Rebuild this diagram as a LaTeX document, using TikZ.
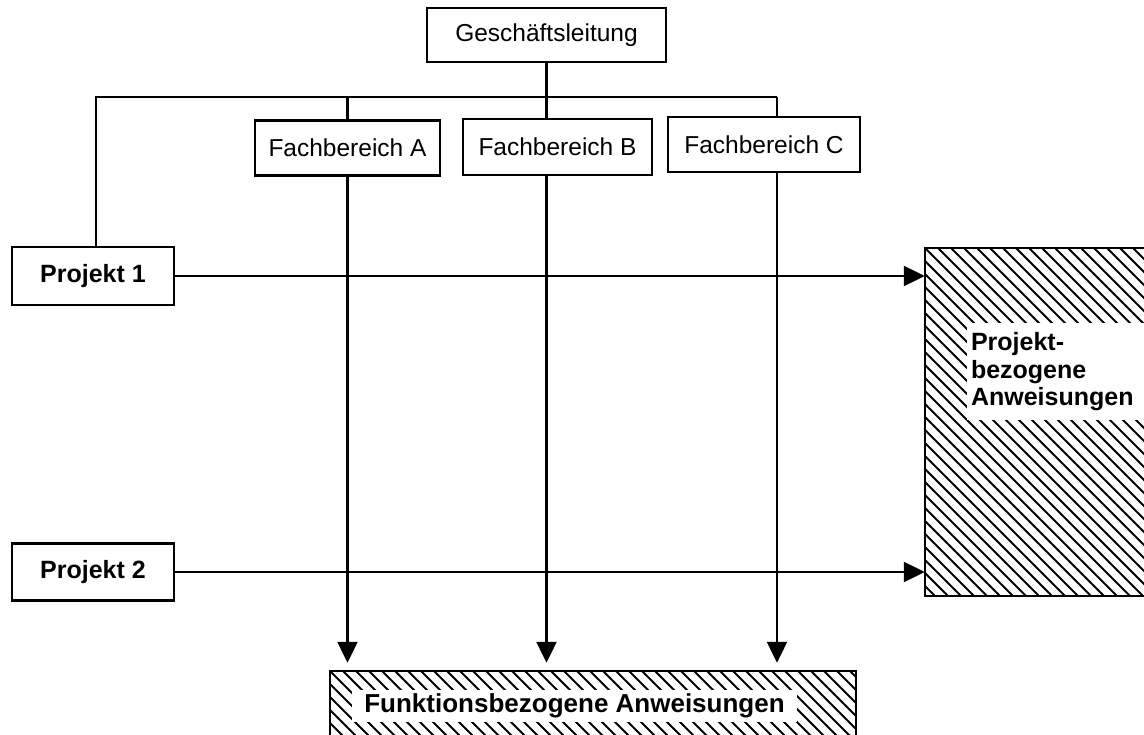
\documentclass[tikz,border=0pt]{standalone}
\usepackage{fontspec}
\setmainfont{Liberation Sans}
\usetikzlibrary{arrows.meta,calc}
\begin{document}
\begin{tikzpicture}[x=1pt,y=-1pt,
  box/.style={draw, line width=2.2pt, inner sep=0pt, font=\fontsize{24.5}{28}\selectfont},
  pbox/.style={box, font=\fontsize{25}{30}\selectfont\bfseries},
  conn/.style={line width=2.2pt},
  arr/.style={conn, -{Triangle[length=21pt,width=20pt]}},
  hatch/.style={line width=2pt},
  area/.style={inner sep=0pt},
  lbl/.style={fill=white, inner sep=0pt, align=left}
]
\useasboundingbox (0,0) rectangle (1144,735);

% org boxes
\node[box, minimum width=239pt, minimum height=54pt] (gl) at (546.5,35) {Geschäftsleitung};
\node[box, minimum width=185pt, minimum height=55pt] (fa) at (347.5,148) {Fachbereich A};
\node[box, minimum width=189pt, minimum height=56pt] (fb) at (557.5,147) {Fachbereich B};
\node[box, minimum width=192pt, minimum height=55pt] (fc) at (764,144.5) {Fachbereich C};
\node[pbox, minimum width=162pt, minimum height=58pt] (p1) at (93,276) {Projekt 1};
\node[pbox, minimum width=162pt, minimum height=57pt] (p2) at (93,572) {Projekt 2};

% hatched areas (geometry)
\node[area, minimum width=240pt, minimum height=348pt] (pa) at (1045,422) {};
\node[area, minimum width=526pt, minimum height=78pt] (fk) at (593,710) {};

\begin{scope}
  \clip (pa.north west) rectangle (pa.south east);
  \foreach \i in {-30,...,22}
    \draw[hatch] ($(pa.north west)+(\i*13,0)$) -- ++(400,400);
\end{scope}
\begin{scope}
  \clip (fk.north west) rectangle (fk.south east);
  \foreach \i in {-8,...,44}
    \draw[hatch] ($(fk.north west)+(\i*13,0)$) -- ++(100,100);
\end{scope}

\node[lbl, minimum width=180pt, minimum height=97pt, text width=172pt,
      font=\fontsize{25}{27.5}\selectfont\bfseries] (pl) at (1057,372)
  {Projekt-\\bezogene\\Anweisungen};
\node[lbl, minimum width=445pt, minimum height=32pt,
      font=\fontsize{26}{30}\selectfont\bfseries] (fl) at (574.5,706)
  {Funktionsbezogene Anweisungen};

\draw[conn] (pa.south east) -- (pa.south west) -- (pa.north west) -- (pa.north east);
\draw[conn] (fk.south west) -- (fk.north west) -- (fk.north east) -- (fk.south east);

% junctions
\coordinate (j0) at (96,97);
\coordinate (ja) at (347.5,97);
\coordinate (jb) at (546.5,97);
\coordinate (jc) at (777,97);

\draw[conn] (p1.north -| j0) -- (j0) -- (jc);
\draw[conn] (gl.south) -- (jb);
\draw[conn] (ja) -- (fa.north -| ja);
\draw[conn] (jb) -- (fb.north -| jb);
\draw[conn] (jc) -- (fc.north -| jc);

% arrows
\draw[arr] (p1.east) -- (pa.west |- p1.east);
\draw[arr] (p2.east) -- (pa.west |- p2.east);
\draw[arr, shorten >=8pt] (fa.south -| ja) -- (fk.north -| ja);
\draw[arr, shorten >=8pt] (fb.south -| jb) -- (fk.north -| jb);
\draw[arr, shorten >=8pt] (fc.south -| jc) -- (fk.north -| jc);
\end{tikzpicture}
\end{document}
